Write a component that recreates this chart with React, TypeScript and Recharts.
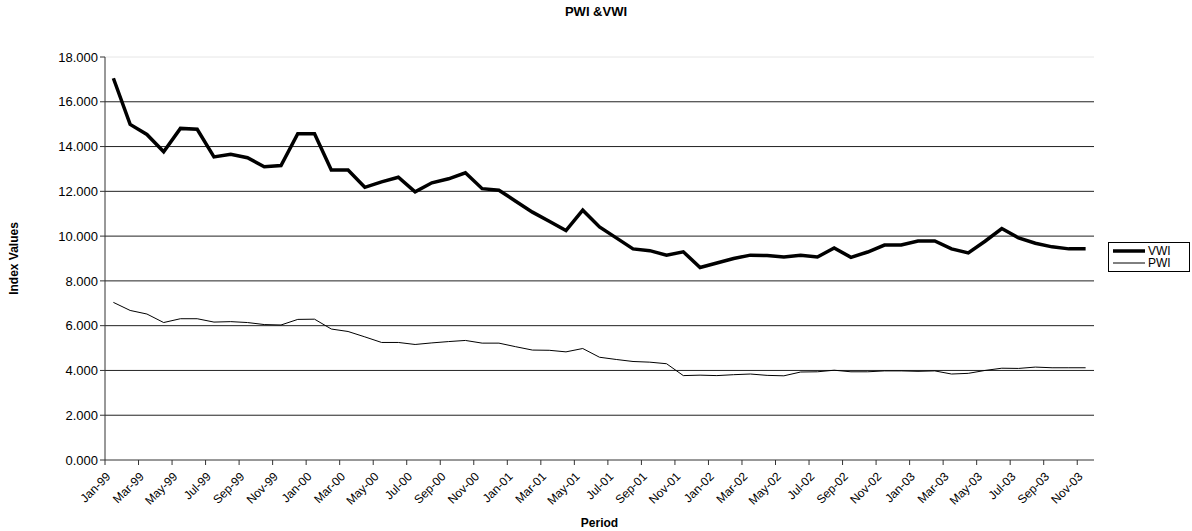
import { CartesianGrid, Line, LineChart, ReferenceLine, XAxis, YAxis } from "recharts";

const periods = [
  "Jan-99", "Feb-99", "Mar-99", "Apr-99", "May-99", "Jun-99", "Jul-99", "Aug-99", "Sep-99", "Oct-99", "Nov-99", "Dec-99",
  "Jan-00", "Feb-00", "Mar-00", "Apr-00", "May-00", "Jun-00", "Jul-00", "Aug-00", "Sep-00", "Oct-00", "Nov-00", "Dec-00",
  "Jan-01", "Feb-01", "Mar-01", "Apr-01", "May-01", "Jun-01", "Jul-01", "Aug-01", "Sep-01", "Oct-01", "Nov-01", "Dec-01",
  "Jan-02", "Feb-02", "Mar-02", "Apr-02", "May-02", "Jun-02", "Jul-02", "Aug-02", "Sep-02", "Oct-02", "Nov-02", "Dec-02",
  "Jan-03", "Feb-03", "Mar-03", "Apr-03", "May-03", "Jun-03", "Jul-03", "Aug-03", "Sep-03", "Oct-03", "Nov-03",
];

const vwi = [
  17.05, 14.99, 14.54, 13.77, 14.81, 14.77, 13.54, 13.66, 13.5, 13.1, 13.15, 14.57,
  14.57, 12.95, 12.95, 12.18, 12.42, 12.63, 11.98, 12.38, 12.56, 12.83, 12.12, 12.05,
  11.56, 11.07, 10.66, 10.25, 11.16, 10.41, 9.92, 9.43, 9.35, 9.15, 9.3, 8.6,
  8.8, 9.0, 9.15, 9.13, 9.07, 9.14, 9.07, 9.47, 9.05, 9.29, 9.6, 9.6,
  9.78, 9.78, 9.43, 9.25, 9.77, 10.34, 9.92, 9.68, 9.52, 9.43, 9.43,
];

const pwi = [
  7.04, 6.68, 6.52, 6.14, 6.31, 6.31, 6.16, 6.18, 6.14, 6.05, 6.03, 6.28,
  6.29, 5.85, 5.74, 5.5, 5.25, 5.25, 5.16, 5.23, 5.29, 5.34, 5.22, 5.22,
  5.06, 4.91, 4.9, 4.83, 4.98, 4.59, 4.49, 4.4, 4.37, 4.3, 3.77, 3.79,
  3.77, 3.81, 3.84, 3.78, 3.76, 3.93, 3.94, 4.01, 3.94, 3.94, 3.98, 3.98,
  3.96, 3.98, 3.84, 3.87, 4.0, 4.1, 4.09, 4.15, 4.12, 4.12, 4.12,
];

const yTicks = [0, 2, 4, 6, 8, 10, 12, 14, 16, 18];
const gridValues = [2, 4, 6, 8, 10, 12, 14, 16];

// ticks sit on category boundaries, one every two months
const xTicks = periods.filter((_, i) => i % 2 === 0).map((_, k) => k * 2 - 0.5);

const data = periods.map((period, i) => ({ idx: i, period, VWI: vwi[i], PWI: pwi[i] }));

const FONT = "Arial, 'Liberation Sans', sans-serif";

function PeriodTick({ x, y, payload }: { x?: number; y?: number; payload?: { value: number } }) {
  const label = periods[Math.round((payload?.value ?? 0) + 0.5)] ?? "";
  const ty = (y ?? 0) + 4;
  return (
    <text
      x={x}
      y={ty}
      textAnchor="end"
      dominantBaseline="hanging"
      transform={`rotate(-45, ${x}, ${ty})`}
      fontSize={12}
      fontFamily={FONT}
      fill="#000"
    >
      {label}
    </text>
  );
}

function LegendBox() {
  const rows = [
    { name: "VWI", width: 3.5 },
    { name: "PWI", width: 1 },
  ];
  return (
    <div
      style={{
        position: "absolute",
        left: 1108,
        top: 242,
        width: 72,
        border: "1px solid #000",
        background: "#fff",
        padding: "2px 4px",
        fontFamily: FONT,
        fontSize: 12,
      }}
    >
      {rows.map((r) => (
        <div key={r.name} style={{ display: "flex", alignItems: "center", height: 12 }}>
          <svg width={32} height={8}>
            <line x1={0} x2={32} y1={4} y2={4} stroke="#000" strokeWidth={r.width} />
          </svg>
          <span style={{ marginLeft: 3 }}>{r.name}</span>
        </div>
      ))}
    </div>
  );
}

export default function App() {
  return (
    <div style={{ position: "absolute", left: 0, top: 0, width: 1192, height: 531, background: "#fff" }}>
      <LineChart width={1192} height={531} data={data} margin={{ top: 57, right: 98, bottom: 0, left: 0 }}>
        <CartesianGrid horizontal vertical={false} horizontalValues={gridValues} stroke="#222" strokeWidth={1} />
        <ReferenceLine y={18} stroke="#e6e6e6" strokeWidth={1} />
        <XAxis
          type="number"
          dataKey="idx"
          domain={[-0.5, 58.5]}
          ticks={xTicks}
          interval={0}
          height={71}
          tick={<PeriodTick />}
          tickSize={5}
          axisLine={{ stroke: "#333" }}
          tickLine={{ stroke: "#333" }}
          label={{ value: "Period", position: "insideBottom", offset: 4, style: { fontFamily: FONT, fontWeight: "bold", fontSize: 12, fill: "#000" } }}
        />
        <YAxis
          domain={[0, 18]}
          ticks={yTicks}
          width={105}
          tickSize={5}
          tickFormatter={(v: number) => v.toFixed(3)}
          tick={{ fontFamily: FONT, fontSize: 13, fill: "#000" }}
          axisLine={{ stroke: "#333" }}
          tickLine={{ stroke: "#333" }}
          label={{
            value: "Index Values",
            angle: -90,
            position: "insideLeft",
            offset: 14,
            style: { fontFamily: FONT, fontWeight: "bold", fontSize: 12, fill: "#000", textAnchor: "middle" },
          }}
        />
        <Line type="linear" dataKey="VWI" stroke="#000" strokeWidth={3.5} dot={false} isAnimationActive={false} />
        <Line type="linear" dataKey="PWI" stroke="#000" strokeWidth={1} dot={false} isAnimationActive={false} />
      </LineChart>
      <div
        style={{
          position: "absolute",
          left: 0,
          top: 4,
          width: 1192,
          textAlign: "center",
          fontFamily: FONT,
          fontWeight: "bold",
          fontSize: 13,
        }}
      >
        PWI &amp;VWI
      </div>
      <LegendBox />
    </div>
  );
}
